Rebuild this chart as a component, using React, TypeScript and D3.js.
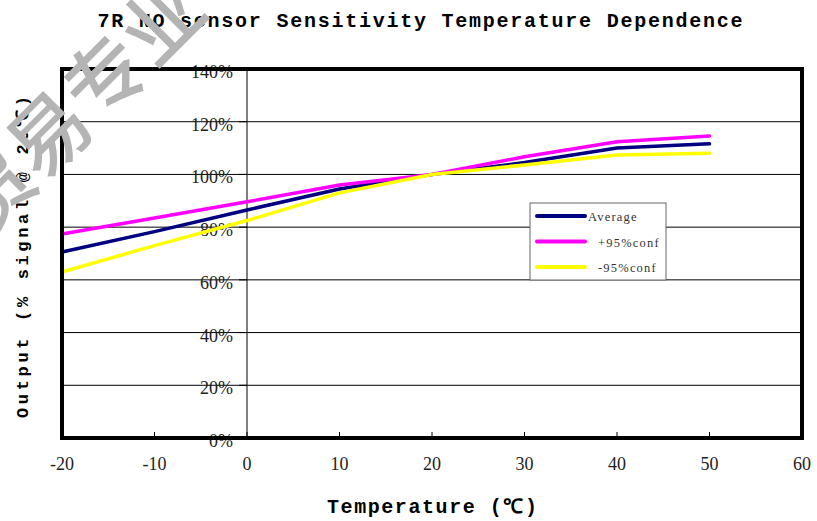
import React from 'react';
import * as d3 from 'd3';

const WIDTH = 817;
const HEIGHT = 521;
const MARGIN = { top: 69, right: 15, bottom: 83, left: 62 };

const temperatures = [-20, -10, 0, 10, 20, 30, 40, 50];
const average = [70.6, 78.3, 86.5, 94.5, 100, 104.5, 110, 111.6];
const upperConf = [77.4, 83.5, 89.6, 96, 100, 106.7, 112.4, 114.6];
const lowerConf = [63, 73, 82.5, 93, 100, 103.6, 107.4, 108];

const xTicks = [-20, -10, 0, 10, 20, 30, 40, 50, 60];
const yTicks = [0, 20, 40, 60, 80, 100, 120, 140];

const series = [
  { name: 'Average', values: average, color: '#000080' },
  { name: '+95%conf', values: upperConf, color: '#ff00ff' },
  { name: '-95%conf', values: lowerConf, color: '#ffff00' },
];

const MONO = '"Liberation Mono", "DejaVu Sans Mono", monospace';
const SERIF = '"Liberation Serif", "DejaVu Serif", serif';

export default function App() {
  const boundsWidth = WIDTH - MARGIN.left - MARGIN.right;
  const boundsHeight = HEIGHT - MARGIN.top - MARGIN.bottom;

  const xScale = d3.scaleLinear().domain([-20, 60]).range([0, boundsWidth]);
  const yScale = d3.scaleLinear().domain([0, 140]).range([boundsHeight, 0]);

  const line = d3
    .line<number>()
    .x((_, i) => xScale(temperatures[i]))
    .y((d) => yScale(d));

  const grid = yTicks.map((t) => (
    <g key={t}>
      <line x1={0} x2={boundsWidth} y1={yScale(t)} y2={yScale(t)} stroke="#000" strokeWidth={1} />
      <line x1={xScale(0) - 8} x2={xScale(0)} y1={yScale(t)} y2={yScale(t)} stroke="#000" strokeWidth={1} />
      <text
        x={xScale(0) - 14}
        y={yScale(t) + 3}
        textAnchor="end"
        dominantBaseline="central"
        fontFamily={SERIF}
        fontSize={18}
        fill="#222"
      >
        {t}%
      </text>
    </g>
  ));

  const xAxis = xTicks.map((t) => (
    <g key={t}>
      <line x1={xScale(t)} x2={xScale(t)} y1={boundsHeight} y2={boundsHeight - 6} stroke="#000" />
      <text
        x={xScale(t)}
        y={boundsHeight + 32}
        textAnchor="middle"
        fontFamily={SERIF}
        fontSize={18}
        fill="#222"
      >
        {t}
      </text>
    </g>
  ));

  const legendX = 530 - MARGIN.left;
  const legendY = 203 - MARGIN.top;
  const legend = (
    <g transform={`translate(${legendX},${legendY})`}>
      <rect x={0} y={0} width={136} height={77} fill="#fff" stroke="#666" strokeWidth={1} />
      {series.map((s, i) => (
        <g key={s.name} transform={`translate(0,${13 + i * 25.5})`}>
          <line x1={7} x2={55} y1={0} y2={0} stroke={s.color} strokeWidth={4} strokeLinecap="round" />
          <text
            x={i === 0 ? 58 : 68}
            y={1}
            dominantBaseline="central"
            fontFamily={SERIF}
            fontSize={12.5}
            letterSpacing={1.2}
            fill="#333"
          >
            {s.name}
          </text>
        </g>
      ))}
    </g>
  );

  return (
    <svg width={WIDTH} height={HEIGHT} style={{ position: 'absolute', left: 0, top: 0, background: '#fff' }}>
      <rect width={WIDTH} height={HEIGHT} fill="#fff" />
      <text
        x={420}
        y={27}
        textAnchor="middle"
        fontFamily={MONO}
        fontWeight="bold"
        fontSize={20}
        textLength={645}
        lengthAdjust="spacing"
        fill="#000"
      >
        7R NO sensor Sensitivity Temperature Dependence
      </text>
      <g transform={`translate(${MARGIN.left},${MARGIN.top})`}>
        {grid}
        <line x1={xScale(0)} x2={xScale(0)} y1={0} y2={boundsHeight} stroke="#000" strokeWidth={1} />
        {series.map((s) => (
          <path
            key={s.name}
            d={line(s.values) || ''}
            fill="none"
            stroke={s.color}
            strokeWidth={3.5}
            strokeLinecap="round"
            strokeLinejoin="round"
          />
        ))}
        {xAxis}
        <rect x={0} y={0} width={boundsWidth} height={boundsHeight} fill="none" stroke="#000" strokeWidth={4} />
        {legend}
      </g>
      <text
        x={432}
        y={513}
        textAnchor="middle"
        fontFamily={MONO}
        fontWeight="bold"
        fontSize={20}
        textLength={210}
        lengthAdjust="spacing"
        fill="#000"
      >
        Temperature (℃)
      </text>
      <text
        transform="translate(28,257) rotate(-90)"
        textAnchor="middle"
        fontFamily={MONO}
        fontWeight="bold"
        fontSize={17}
        textLength={322}
        lengthAdjust="spacing"
        fill="#000"
      >
        Output (% signal @ 20℃)
      </text>
      {/* watermark, cut at the left edge as in the source image */}
      <text
        transform="translate(-40,215) rotate(-45)"
        dominantBaseline="central"
        fontFamily='"Noto Sans CJK SC", sans-serif'
        fontWeight={500}
        fontSize={80}
        fill="#b4b4b4"
      >
        贸易专业
      </text>
    </svg>
  );
}
